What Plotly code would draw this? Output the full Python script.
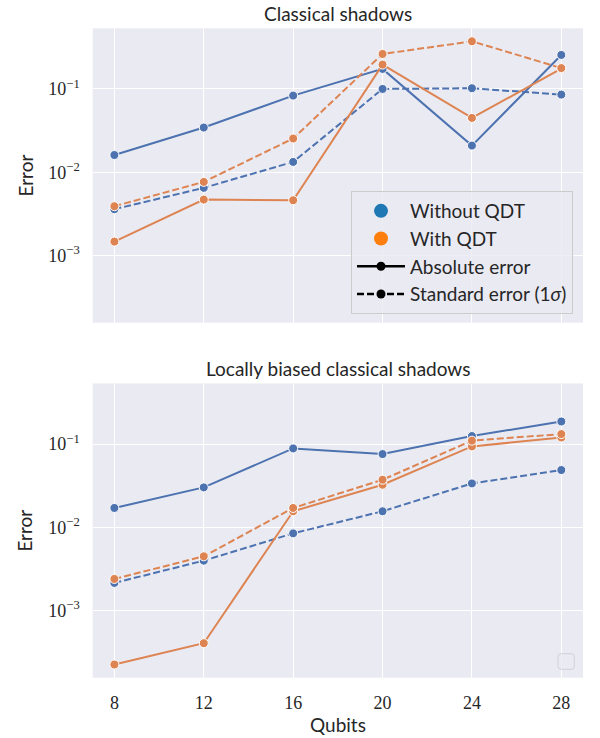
import plotly.graph_objects as go

# ---- data -------------------------------------------------------------
qubits = [8, 12, 16, 20, 24, 28]
tick_vals_y = [1e-3, 1e-2, 1e-1]
tick_text_y = ["10<sup>−3</sup>", "10<sup>−2</sup>", "10<sup>−1</sup>"]

# Classical shadows
cs_abs_without = [0.0161, 0.0344, 0.0832, 0.174, 0.0209, 0.256]
cs_std_without = [0.0036, 0.0065, 0.0133, 0.100, 0.102, 0.0855]
cs_abs_with = [0.00147, 0.0047, 0.00461, 0.196, 0.0449, 0.175]
cs_std_with = [0.00391, 0.00766, 0.0254, 0.263, 0.373, 0.178]

# Locally biased classical shadows
lb_abs_without = [0.0171, 0.0302, 0.0887, 0.0759, 0.125, 0.187]
lb_std_without = [0.00215, 0.00398, 0.00847, 0.0156, 0.0337, 0.0488]
lb_abs_with = [0.000225, 0.000406, 0.0156, 0.0325, 0.0938, 0.120]
lb_std_with = [0.0024, 0.00449, 0.0171, 0.0373, 0.110, 0.132]

# ---- style --------------------------------------------------------------
W, H = 600, 738
BLUE, ORANGE = "#4C72B0", "#DD8452"
BLUE_LEG, ORANGE_LEG = "#1f77b4", "#ff7f0e"
BG = "#EAEAF2"
TXT = "#262626"
SANS = "Lato"
SERIF = "Liberation Serif"
DASH = "7px,3px"
FS = 19

X_DOM = [92.7 / W, 583 / W]
Y_DOM_TOP = [1 - 322.7 / H, 1 - 28.3 / H]
Y_DOM_BOT = [1 - 677.7 / H, 1 - 383.5 / H]
Y_RANGE = [-3.806, -0.272]
X_RANGE = [7.03, 28.97]

fig = go.Figure()


def add_series(y, color, dash, xa, ya):
    fig.add_trace(go.Scatter(
        x=qubits, y=y, xaxis=xa, yaxis=ya, mode="lines+markers",
        line=dict(color=color, width=2, dash=dash),
        marker=dict(size=9, color=color, line=dict(color="white", width=1)),
        showlegend=False, hoverinfo="skip",
    ))


for xa, ya, series in [
    ("x", "y", [cs_abs_without, cs_std_without, cs_abs_with, cs_std_with]),
    ("x2", "y2", [lb_abs_without, lb_std_without, lb_abs_with, lb_std_with]),
]:
    add_series(series[0], BLUE, "solid", xa, ya)
    add_series(series[1], BLUE, DASH, xa, ya)
    add_series(series[2], ORANGE, "solid", xa, ya)
    add_series(series[3], ORANGE, DASH, xa, ya)

# legend entries (top panel)
legend_items = [
    ("Without QDT", "markers", BLUE_LEG, "solid"),
    ("With QDT", "markers", ORANGE_LEG, "solid"),
    ("Absolute error", "lines+markers", "black", "solid"),
    ("Standard error (1<i>σ</i>)", "lines+markers", "black", DASH),
]
for i, (name, mode, color, dash) in enumerate(legend_items):
    msize = 14 if mode == "markers" else 9
    fig.add_trace(go.Scatter(
        x=[None], y=[None], xaxis="x", yaxis="y", mode=mode, name=name,
        legendgroup=f"g{i}",
        line=dict(color=color, width=2.5, dash=dash),
        marker=dict(size=msize, color=color),
    ))

axis_common = dict(
    showgrid=True, gridcolor="white", gridwidth=1.3, zeroline=False,
    showline=False, ticks="", automargin=False,
)
tick_font = dict(family=SERIF, size=18, color=TXT)

fig.update_layout(
    width=W, height=H,
    margin=dict(l=0, r=0, t=0, b=0),
    paper_bgcolor="white", plot_bgcolor=BG,
    template="none",
    font=dict(family=SANS, color=TXT),
    xaxis=dict(domain=X_DOM, anchor="y", range=X_RANGE, tickvals=qubits,
               showticklabels=False, **axis_common),
    xaxis2=dict(domain=X_DOM, anchor="y2", range=X_RANGE, tickvals=qubits,
                ticktext=[str(q) for q in qubits], tickfont=tick_font,
                ticklabelstandoff=12, **axis_common),
    yaxis=dict(domain=Y_DOM_TOP, anchor="x", type="log", range=Y_RANGE,
               tickvals=tick_vals_y, ticktext=tick_text_y, tickfont=tick_font,
               ticklabelstandoff=12, **axis_common),
    yaxis2=dict(domain=Y_DOM_BOT, anchor="x2", type="log", range=Y_RANGE,
                tickvals=tick_vals_y, ticktext=tick_text_y, tickfont=tick_font,
                ticklabelstandoff=12, **axis_common),
    legend=dict(
        x=573 / W, y=1 - 314 / H, xanchor="right", yanchor="bottom",
        bgcolor="rgba(234,234,242,0.8)", bordercolor="#cccccc", borderwidth=1,
        font=dict(family=SANS, size=FS, color=TXT),
        tracegroupgap=0, itemwidth=48,
    ),
)

# panel titles and axis labels
x_mid = (X_DOM[0] + X_DOM[1]) / 2
annos = [
    ("Classical shadows", 13),
    ("Locally biased classical shadows", 368),
    ("Qubits", 724),
]
for text, yc in annos:
    fig.add_annotation(text=text, x=x_mid, y=1 - yc / H, xref="paper", yref="paper",
                       showarrow=False, xanchor="center", yanchor="middle",
                       font=dict(family=SANS, size=FS, color=TXT))
for yc in [175.5, 530.6]:
    fig.add_annotation(text="Error", x=25 / W, y=1 - yc / H, xref="paper", yref="paper",
                       showarrow=False, textangle=-90, xanchor="center", yanchor="middle",
                       font=dict(family=SANS, size=FS, color=TXT))


# empty legend frame on the lower panel
def rounded_box(x0, y0, x1, y1, r):
    def p(px, py):
        return f"{px / W:.5f},{1 - py / H:.5f}"
    return (f"M {p(x0 + r, y0)} L {p(x1 - r, y0)} Q {p(x1, y0)} {p(x1, y0 + r)} "
            f"L {p(x1, y1 - r)} Q {p(x1, y1)} {p(x1 - r, y1)} "
            f"L {p(x0 + r, y1)} Q {p(x0, y1)} {p(x0, y1 - r)} "
            f"L {p(x0, y0 + r)} Q {p(x0, y0)} {p(x0 + r, y0)} Z")


fig.add_shape(type="path", xref="paper", yref="paper",
              path=rounded_box(558, 653.7, 574.3, 669.3, 3),
              line=dict(color="#d0d0d6", width=1), fillcolor="rgba(234,234,242,0.8)")

fig.write_html("out.html")
